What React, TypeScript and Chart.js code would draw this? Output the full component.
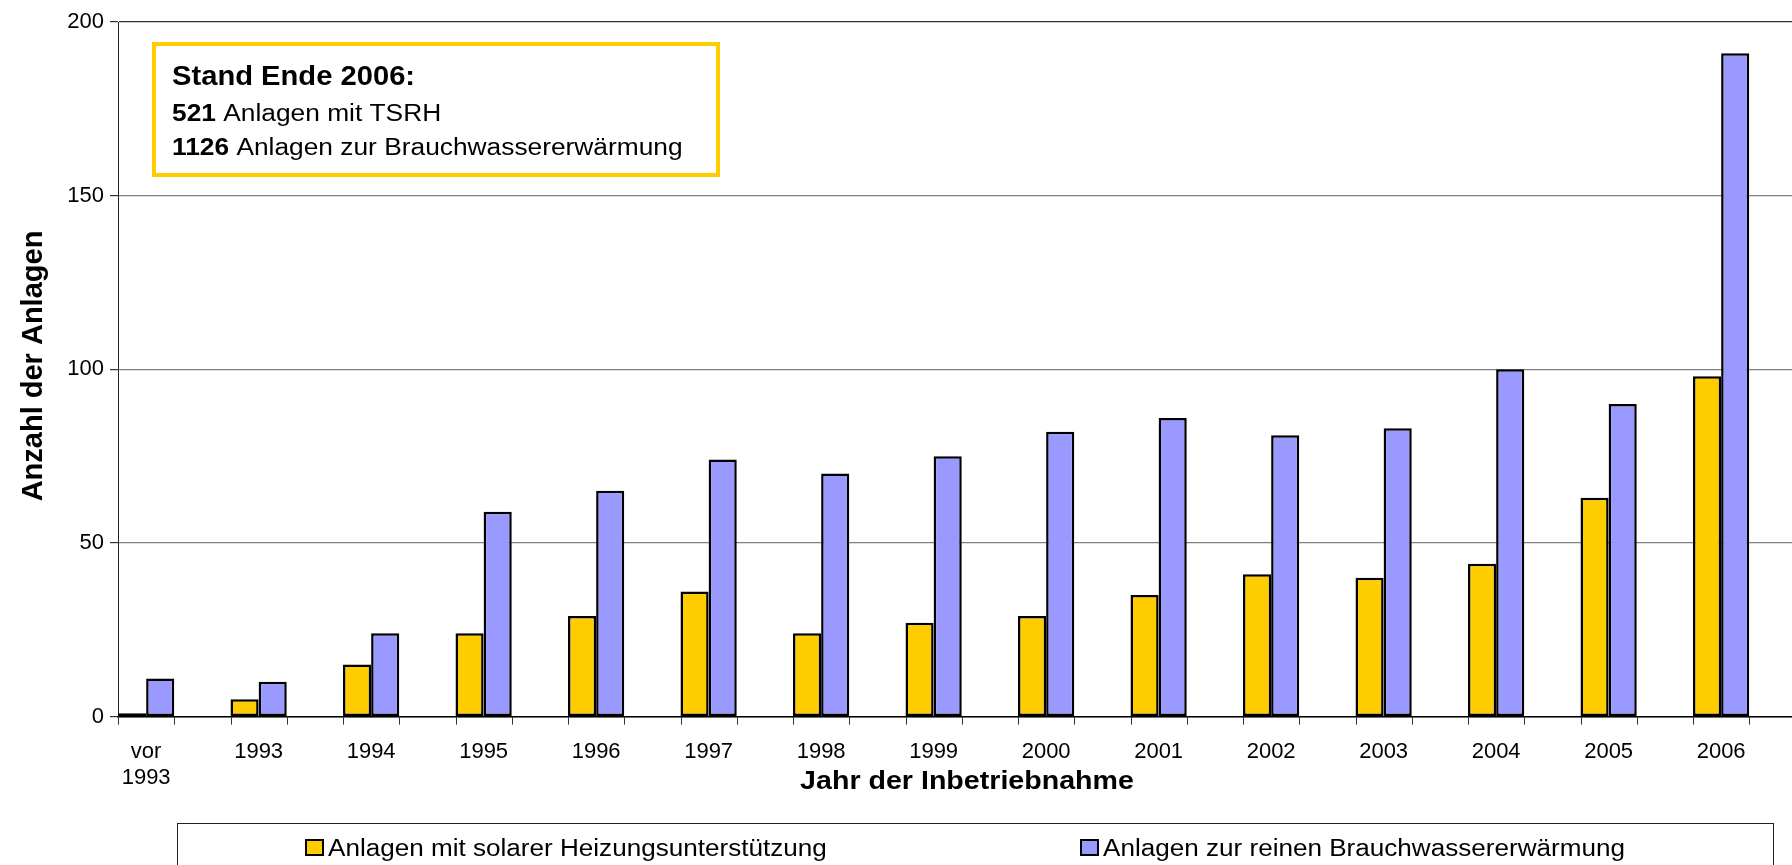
import React, { useEffect, useRef } from 'react';
import { Chart, registerables } from 'chart.js';

Chart.register(...registerables);

const FONT = "'Liberation Sans', Arial, Helvetica, sans-serif";

// ---- data ----
const categories = ['vor 1993', '1993', '1994', '1995', '1996', '1997', '1998', '1999', '2000', '2001', '2002', '2003', '2004', '2005', '2006'];
const heizungValues = [1, 5, 15, 24, 29, 36, 24, 27, 29, 35, 41, 40, 44, 63, 98];
const brauchwasserValues = [11, 10, 24, 59, 65, 74, 70, 75, 82, 86, 81, 83, 100, 90, 191];
const seriesLabels = ['Anlagen mit solarer Heizungsunterstützung', 'Anlagen zur reinen Brauchwassererwärmung'];
const seriesColors = ['#FFCC00', '#9999FF'];
const yMin = 0;
const yMax = 200;
const yStep = 50;
const xTitle = 'Jahr der Inbetriebnahme';
const yTitle = 'Anzahl der Anlagen';
const boxBold = ['Stand Ende 2006:', '521', '1126'];
const boxRest = ['', ' Anlagen mit TSRH', ' Anlagen zur Brauchwassererwärmung'];

function drawStretched(ctx: CanvasRenderingContext2D, text: string, x: number, y: number, sx: number, font: string, align: CanvasTextAlign = 'left') {
  ctx.save();
  ctx.font = font;
  ctx.textAlign = align;
  ctx.textBaseline = 'alphabetic';
  ctx.translate(x, y);
  ctx.scale(sx, 1);
  ctx.fillText(text, 0, 0);
  const w = ctx.measureText(text).width * sx;
  ctx.restore();
  return w;
}

export default function App() {
  const ref = useRef<HTMLCanvasElement>(null);

  useEffect(() => {
    const canvas = ref.current;
    if (!canvas) return;

    const overlay = {
      id: 'overlay',
      afterDraw(chart: any) {
        const ctx: CanvasRenderingContext2D = chart.ctx;
        const xs = chart.scales.x;
        const area = chart.chartArea;
        ctx.save();
        // x tick marks at group edges
        ctx.strokeStyle = '#333';
        ctx.lineWidth = 1;
        categories.forEach((_, i) => {
          [-0.25, 0.25].forEach((d) => {
            const px = Math.round(xs.getPixelForValue(i + d)) + 0.5;
            ctx.beginPath();
            ctx.moveTo(px, area.bottom);
            ctx.lineTo(px, area.bottom + 8);
            ctx.stroke();
          });
        });

        // annotation box
        ctx.fillStyle = '#fff';
        ctx.fillRect(154, 44, 564, 131);
        ctx.strokeStyle = '#FFCC00';
        ctx.lineWidth = 4;
        ctx.strokeRect(154, 44, 564, 131);
        ctx.fillStyle = '#000';
        const baselines = [85, 121, 155];
        boxBold.forEach((b, i) => {
          const bf = i === 0 ? `bold 27px ${FONT}` : `bold 23.5px ${FONT}`;
          const sx = i === 0 ? 1.08 : 1.12;
          const w = drawStretched(ctx, b, 172, baselines[i], sx, bf);
          if (boxRest[i]) drawStretched(ctx, boxRest[i], 172 + w, baselines[i], 1.12, `23.5px ${FONT}`);
        });

        // x title
        drawStretched(ctx, xTitle, 967, 789, 1.1, `bold 26px ${FONT}`, 'center');

        // y title
        ctx.save();
        ctx.translate(42, 366);
        ctx.rotate(-Math.PI / 2);
        ctx.font = `bold 29px ${FONT}`;
        ctx.textAlign = 'center';
        ctx.textBaseline = 'alphabetic';
        ctx.fillStyle = '#000';
        ctx.fillText(yTitle, 0, 0);
        ctx.restore();

        // legend
        ctx.strokeStyle = '#222';
        ctx.lineWidth = 1;
        ctx.strokeRect(177.5, 823.5, 1596, 80);
        const itemX = [305, 1080];
        chart.data.datasets.forEach((ds: any, i: number) => {
          const x0 = itemX[i];
          ctx.fillStyle = ds.backgroundColor;
          ctx.fillRect(x0 + 1, 840, 17, 15);
          ctx.strokeStyle = '#000';
          ctx.lineWidth = 2;
          ctx.strokeRect(x0 + 1, 840, 17, 15);
          ctx.fillStyle = '#000';
          drawStretched(ctx, ds.label, x0 + 23, 856, 1.11, `23.5px ${FONT}`);
        });
        ctx.restore();
      },
    };

    const chart = new Chart(canvas, {
      type: 'bar',
      data: {
        datasets: [
          {
            label: seriesLabels[0],
            data: heizungValues.map((v, i) => ({ x: i, y: v })),
            backgroundColor: seriesColors[0],
            borderColor: '#000',
            borderWidth: 2.5,
            borderSkipped: false,
            categoryPercentage: 0.5,
            barPercentage: 1,
          },
          {
            label: seriesLabels[1],
            data: brauchwasserValues.map((v, i) => ({ x: i, y: v })),
            backgroundColor: seriesColors[1],
            borderColor: '#000',
            borderWidth: 2.5,
            borderSkipped: false,
            categoryPercentage: 0.5,
            barPercentage: 1,
          },
        ],
      } as any,
      options: {
        animation: false,
        responsive: false,
        devicePixelRatio: 1,
        layout: { padding: { top: 22, left: 0, right: 0, bottom: 0 } },
        plugins: { legend: { display: false }, tooltip: { enabled: false } },
        scales: {
          x: {
            type: 'linear',
            min: -0.25,
            max: categories.length - 0.37,
            offset: false,
            afterBuildTicks: (s: any) => {
              s.ticks = categories.map((_, i) => ({ value: i }));
            },
            afterFit: (s: any) => {
              s.height = 148.4;
            },
            ticks: {
              autoSkip: false,
              maxRotation: 0,
              minRotation: 0,
              padding: 14,
              color: '#000',
              font: { size: 22, family: FONT, lineHeight: 1.2 },
              callback: (v: any) => {
                const lab = categories[Math.round(Number(v))];
                return lab ? lab.split(' ') : '';
              },
            },
            grid: { display: true, drawOnChartArea: false, drawTicks: true, tickLength: 8, tickColor: 'rgba(0,0,0,0)', offset: false },
            border: { display: true, color: '#000', width: 1.5 },
          },
          y: {
            min: yMin,
            max: yMax,
            afterFit: (s: any) => {
              s.width = 118;
            },
            ticks: { stepSize: yStep, padding: 6, color: '#000', font: { size: 22, family: FONT } },
            grid: {
              color: (c: any) => (c.tick && c.tick.value === yMax ? '#333' : '#808080'),
              lineWidth: 1.2,
              tickLength: 8,
              tickColor: '#333',
            },
            border: { display: true, color: '#222', width: 1 },
          },
        },
      } as any,
      plugins: [overlay],
    });

    return () => chart.destroy();
  }, []);

  return (
    <div style={{ position: 'absolute', left: 0, top: 0, width: 1792, height: 865, background: '#fff', overflow: 'hidden' }}>
      <canvas ref={ref} width={1792} height={865} style={{ display: 'block', width: 1792, height: 865 }} />
    </div>
  );
}
